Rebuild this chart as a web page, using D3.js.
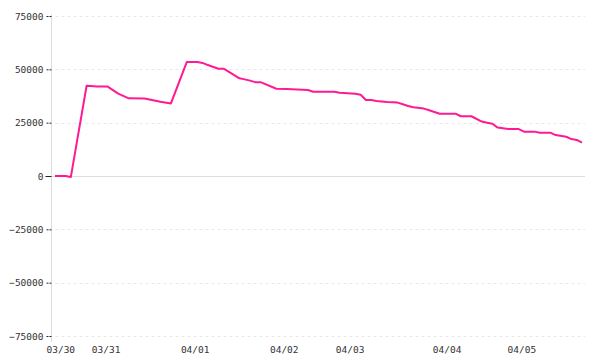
<!DOCTYPE html>
<html>
<head>
<meta charset="utf-8">
<script src="https://cdn.jsdelivr.net/npm/d3@7"></script>
<style>
  body { margin: 0; background: #fff; }
  text { font-family: "DejaVu Sans Mono", monospace; font-size: 9.5px; fill: #333; }
</style>
</head>
<body>
<svg id="chart" width="600" height="360"></svg>
<script>
// sample index along the x axis (category positions) and the value at each vertex
var sampleIdx = [0, 2, 3, 6, 8, 10, 12, 14, 17, 20, 22, 25, 27, 28, 29, 31, 32, 35, 36, 37, 38, 39,
                 42, 44, 48, 49, 53, 54, 57, 58, 59, 60, 61, 63, 65, 66, 67, 68, 70, 71, 72, 73, 76,
                 77, 79, 81, 82, 83, 84, 86, 88, 89, 91, 92, 94, 95, 97, 98, 99, 100];
var values = [0, 0, -500, 42300, 42000, 41900, 38600, 36400, 36300, 34800, 34000, 53400, 53400, 53000,
              52000, 50300, 50300, 45800, 45300, 44700, 44000, 44000, 40900, 40800, 40300, 39500, 39500,
              39000, 38600, 38100, 35600, 35600, 35200, 34700, 34400, 33600, 32800, 32200, 31600, 30800,
              30000, 29200, 29200, 28000, 28000, 25500, 25000, 24500, 22700, 22000, 22000, 20800, 20800,
              20300, 20300, 19200, 18400, 17300, 16900, 15600];
var sampleCount = 101;
// first sample of each day and its label
var dayIdx = [1.1, 9.7, 26.6, 43.5, 56, 74.4, 88.6];
var dayLabels = ["03/30", "03/31", "04/01", "04/02", "04/03", "04/04", "04/05"];
var yTicks = [-75000, -50000, -25000, 0, 25000, 50000, 75000];

(function () {
  var svg = d3.select("#chart");
  var axisX = 51.5, plotLeft = 55, plotRight = 582, plotTop = 16, plotBottom = 336;

  var x = d3.scaleLinear().domain([0, sampleCount - 1]).range([plotLeft, plotRight]);
  var y = d3.scaleLinear().domain([-75000, 75000]).range([plotBottom, plotTop]);

  // horizontal grid (dashed), zero line solid
  svg.append("g")
    .selectAll("line")
    .data(yTicks.filter(d => d !== 0))
    .join("line")
    .attr("x1", axisX + 4).attr("x2", 585)
    .attr("y1", d => Math.round(y(d)) + 0.5).attr("y2", d => Math.round(y(d)) + 0.5)
    .attr("stroke", "#e8e8e8")
    .attr("stroke-dasharray", "3,3");

  svg.append("line")
    .attr("x1", axisX).attr("x2", 585)
    .attr("y1", Math.round(y(0)) + 0.5).attr("y2", Math.round(y(0)) + 0.5)
    .attr("stroke", "#ddd");

  // y axis
  var yAxis = svg.append("g")
    .attr("transform", "translate(" + axisX + ",0)")
    .call(d3.axisLeft(y).tickValues(yTicks).tickSize(6).tickPadding(2).tickFormat(d3.format("d")));
  yAxis.select(".domain").attr("stroke", "#ddd").attr("d", "M0," + (plotTop - 2) + "V" + (plotBottom + 6));
  yAxis.selectAll(".tick line").attr("stroke", "#222").attr("stroke-dasharray", d => d === 0 ? null : "2,1");
  yAxis.selectAll(".tick text").attr("fill", "#333").style("font-family", "DejaVu Sans Mono").style("font-size", "9.5px");

  // x axis labels (day boundaries)
  svg.append("g")
    .selectAll("text")
    .data(dayIdx)
    .join("text")
    .attr("x", d => x(d))
    .attr("y", 353)
    .attr("text-anchor", "middle")
    .text((d, i) => dayLabels[i]);

  // line
  var line = d3.line()
    .x((d, i) => x(sampleIdx[i]))
    .y(d => y(d));

  svg.append("path")
    .datum(values)
    .attr("fill", "none")
    .attr("stroke", "#ff1a94")
    .attr("stroke-width", 2)
    .attr("stroke-linejoin", "round")
    .attr("d", line);
})();
</script>
</body>
</html>
